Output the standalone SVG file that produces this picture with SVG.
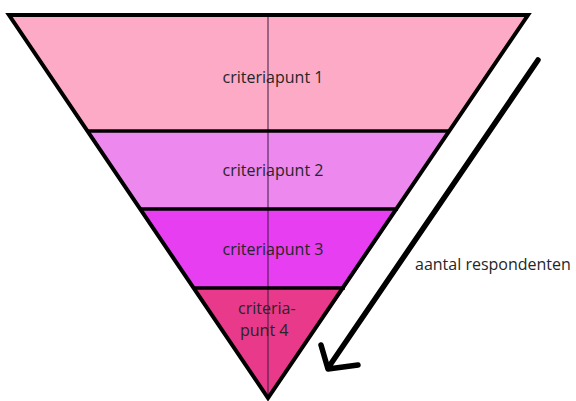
<svg xmlns="http://www.w3.org/2000/svg" width="576" height="401" viewBox="0 0 576 401">
<style>
.t{font-family:"Open Sans","Liberation Sans",sans-serif;font-size:16px;fill:#262626}
.band{stroke:none}
.div{stroke:#000;stroke-width:3.5}
</style>
<rect width="576" height="401" fill="#fff"/>
<g id="band1"><polygon class="band" points="9,15 528,15 450,131 87,131" fill="#fdaac7"/><text class="t" x="273" y="83" text-anchor="middle">criteriapunt 1</text></g>
<g id="band2"><polygon class="band" points="87,131 450,131 398,209 140,209" fill="#ec88ee"/><text class="t" x="273" y="176" text-anchor="middle">criteriapunt 2</text></g>
<g id="band3"><polygon class="band" points="140,209 398,209 345,288 193,288" fill="#e63ef0"/><text class="t" x="273" y="255" text-anchor="middle">criteriapunt 3</text></g>
<g id="band4"><polygon class="band" points="193,288 345,288 268,398" fill="#e8398a"/><text class="t" x="238" y="314">criteria-</text><text class="t" x="240" y="336">punt 4</text></g>
<g id="outline">
<line x1="268" y1="15" x2="268" y2="398" stroke="#3a1a40" stroke-width="1"/>
<line class="div" x1="87" y1="131" x2="450" y2="131"/>
<line class="div" x1="140" y1="209" x2="398" y2="209"/>
<line class="div" x1="193" y1="288" x2="345" y2="288"/>
<polygon points="9,15 528,15 268,398" fill="none" stroke="#000" stroke-width="4" stroke-linejoin="miter"/>
</g>
<g id="connectors">
<path d="M538,60 L328,368 M321,345 L328,369 L358,365" fill="none" stroke="#000" stroke-width="5.5" stroke-linecap="round" stroke-linejoin="round"/>
</g>
<g id="label"><text class="t" x="415" y="270">aantal respondenten</text></g>
</svg>
